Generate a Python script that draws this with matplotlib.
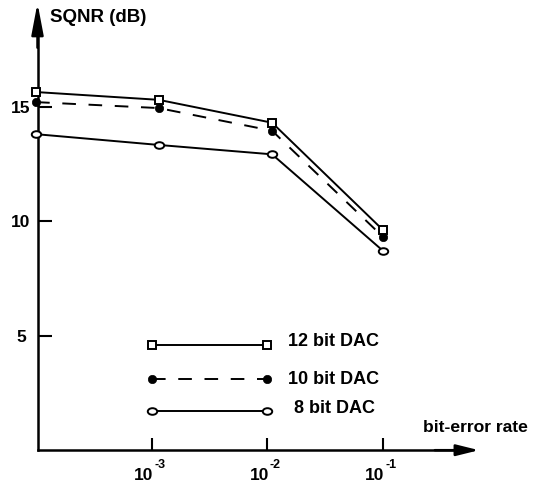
import numpy as np
import matplotlib
matplotlib.use("Agg")
import matplotlib.pyplot as plt
from matplotlib.path import Path
from matplotlib.transforms import Affine2D, ScaledTranslation, blended_transform_factory

plt.rcParams['font.family'] = ['Liberation Sans', 'DejaVu Sans']

# data
ber = [1e-4, 1.15e-3, 1.1e-2, 1e-1]
sqnr_12 = [15.64, 15.3, 14.3, 9.62]
sqnr_10 = [15.2, 14.94, 13.95, 9.32]
sqnr_8 = [13.8, 13.33, 12.92, 8.71]
xticks = [1e-3, 1e-2, 1e-1]
xtick_base = ['10', '10', '10']
xtick_exp = ['-3', '-2', '-1']
yticks = [5, 10, 15]
legend_labels = ['12 bit DAC', '10 bit DAC', '8 bit DAC']
legend_y = [4.59, 3.10, 1.71]
legend_x = [1e-3, 1e-2]

W, H = 542, 483
fig = plt.figure(figsize=(W / 100, H / 100), dpi=100)
L, R, B, T = 37.5, 479, 450.2, 3
ax = fig.add_axes([L / W, (H - B) / H, (R - L) / W, (B - T) / H])
dec = 115.6
x3 = 151.7
ax.set_xscale('log')
ax.set_xlim(10 ** (-3 + (L - x3) / dec), 10 ** (-3 + (R - x3) / dec))
ppu = 22.9
ax.set_ylim(0, (B - T) / ppu)


def xpix(px):
    return 10 ** (-3 + (px - x3) / dec)


for s in ['top', 'right']:
    ax.spines[s].set_visible(False)
for s in ['left', 'bottom']:
    ax.spines[s].set_linewidth(1.8)

ax.set_xticks(xticks)
ax.set_xticklabels([''] * len(xticks))
ax.xaxis.set_minor_locator(matplotlib.ticker.NullLocator())
ax.set_yticks(yticks)
ax.set_yticklabels([str(v) for v in yticks], fontsize=12.5, fontweight='bold')
for lab in ax.get_yticklabels():
    lab.set_horizontalalignment('center')
ax.tick_params(axis='x', direction='in', length=9, width=1.5)
ax.tick_params(axis='y', direction='in', length=10, width=1.5, pad=11.9)

# x tick labels: "10" with a raised exponent
btr = blended_transform_factory(ax.transData, ax.transAxes)
for xv, base, ex in zip(xticks, xtick_base, xtick_exp):
    ax.text(xv, 0, base, fontsize=12.5, fontweight='bold', ha='right', va='baseline',
            transform=btr + ScaledTranslation(1.5 / 100, -30 / 100, fig.dpi_scale_trans))
    ax.text(xv, 0, ex, fontsize=9, fontweight='bold', ha='left', va='baseline',
            transform=btr + ScaledTranslation(2.5 / 100, -18 / 100, fig.dpi_scale_trans))

# oval marker
circ = Path.unit_circle()
oval = Path(Affine2D().scale(1.0, 0.7).transform(circ.vertices), circ.codes)

lw = 1.4
dash = (7, 6.5)
sq_kw = dict(marker='s', ms=5.5, mfc='white', mec='black', mew=1.4)
dot_kw = dict(marker='o', ms=6, mfc='black', mec='black', mew=0.5)
ov_kw = dict(marker=oval, ms=6.8, mfc='white', mec='black', mew=1.4)

ax.plot(ber, sqnr_10, '--', color='black', lw=lw, dashes=dash, clip_on=False, zorder=3, **dot_kw)
ax.plot(ber, sqnr_12, '-', color='black', lw=lw, clip_on=False, zorder=4, **sq_kw)
ax.plot(ber, sqnr_8, '-', color='black', lw=lw, clip_on=False, zorder=4, **ov_kw)

# legend drawn manually
ax.plot(legend_x, [legend_y[0]] * 2, '-', color='black', lw=lw, **sq_kw)
ax.plot(legend_x, [legend_y[1]] * 2, '--', color='black', lw=lw, dashes=dash, **dot_kw)
ax.plot(legend_x, [legend_y[2]] * 2, '-', color='black', lw=lw, **ov_kw)
lab_x = [xpix(288), xpix(288), xpix(294)]
lab_y = [(B - 342) / ppu, (B - 379) / ppu, (B - 408.5) / ppu]
for lxp, ly, t in zip(lab_x, lab_y, legend_labels):
    ax.text(lxp, ly, t, fontsize=13, fontweight='bold', va='center', ha='left')

# axis arrows
ax.annotate('', xy=(1.0, 0), xycoords='axes fraction', xytext=(0.9, 0),
            arrowprops=dict(arrowstyle='-|>,head_length=1.37,head_width=0.34', color='black', lw=1.8,
                            shrinkA=0, shrinkB=0), annotation_clip=False)
ax.annotate('', xy=(0, 1.0), xycoords='axes fraction', xytext=(0, 0.9),
            arrowprops=dict(arrowstyle='-|>,head_length=1.9,head_width=0.36', color='black', lw=1.8,
                            shrinkA=0, shrinkB=0), annotation_clip=False)
ax.spines['bottom'].set_bounds(ax.get_xlim()[0], xpix(465))
ax.spines['left'].set_bounds(0, (B - 20) / ppu)

fig.text(50 / W, 1 - 18 / H, 'SQNR (dB)', fontsize=13.5, fontweight='bold', va='center', ha='left')
fig.text(422.7 / W, 1 - 428 / H, 'bit-error rate', fontsize=12.6, fontweight='bold', va='center', ha='left')

fig.savefig('out.png', dpi=100)
